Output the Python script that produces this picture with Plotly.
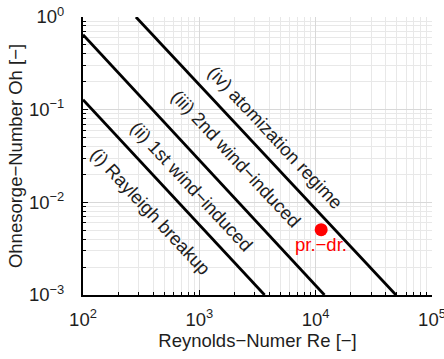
import plotly.graph_objects as go
import math

# Regime boundary lines (Re, Oh endpoints)
line_i_re = [100, 3640]
line_i_oh = [0.128, 0.001]
line_ii_re = [100, 11900]
line_ii_oh = [0.644, 0.001]
line_iii_re = [285, 49000]
line_iii_oh = [1.0, 0.001]

# Operating point
point_re = [11150]
point_oh = [0.00507]
point_label = "pr.−dr."

# Region labels with positions (Re, Oh)
region_labels = ["(i) Rayleigh breakup", "(ii) 1st wind−induced",
                 "(iii) 2nd wind−induced", "(iv) atomization regime"]
region_re = [383, 861, 2051, 4519]
region_oh = [0.00802, 0.01479, 0.02938, 0.05035]

x_tickvals = [1e2, 1e3, 1e4, 1e5]
x_ticktext = ["10<sup>2</sup>", "10<sup>3</sup>", "10<sup>4</sup>", "10<sup>5</sup>"]
y_tickvals = [1e-3, 1e-2, 1e-1, 1e0]
y_ticktext = ["10<sup>−3</sup>", "10<sup>−2</sup>", "10<sup>−1</sup>", "10<sup>0</sup>"]

FONT = "Liberation Sans, Arial, sans-serif"
FS = 18.5
TXT = "#1e1e1e"

fig = go.Figure()
for xs, ys in [(line_i_re, line_i_oh), (line_ii_re, line_ii_oh), (line_iii_re, line_iii_oh)]:
    fig.add_trace(go.Scatter(x=xs, y=ys, mode="lines",
                             line=dict(color="black", width=2.8),
                             showlegend=False, hoverinfo="skip"))

fig.add_trace(go.Scatter(x=point_re, y=point_oh, mode="markers",
                         marker=dict(color="#ff0000", size=13),
                         showlegend=False))

for txt, rx, ry in zip(region_labels, region_re, region_oh):
    fig.add_annotation(x=math.log10(rx), y=math.log10(ry), text=txt,
                       showarrow=False, textangle=47,
                       font=dict(family=FONT, size=FS, color=TXT))

fig.add_annotation(x=math.log10(point_re[0]), y=math.log10(0.0035), text=point_label,
                   showarrow=False, font=dict(family=FONT, size=FS, color="#ff0000"))

minor_x = [m * 10 ** k for k in range(2, 5) for m in range(2, 10)]
minor_y = [m * 10 ** k for k in range(-3, 0) for m in range(2, 10)]

fig.update_xaxes(type="log", range=[2, 5], tickvals=x_tickvals, ticktext=x_ticktext,
                 showline=True, linecolor="black", linewidth=2, mirror=False,
                 ticks="inside", ticklen=5, tickcolor="black", tickwidth=1,
                 showgrid=True, gridcolor="#d8d8d8", gridwidth=1,
                 zeroline=False, ticklabelstandoff=7, ticklabeloverflow="allow",
                 automargin="height",
                 minor=dict(tickvals=minor_x, ticks="inside", ticklen=3,
                            tickcolor="black", showgrid=True, gridcolor="#e8e8e8"),
                 tickfont=dict(family=FONT, size=FS, color=TXT),
                 title=dict(text="Reynolds−Numer Re [−]", standoff=4,
                            font=dict(family=FONT, size=FS, color=TXT)))
fig.update_yaxes(type="log", range=[-3, 0], tickvals=y_tickvals, ticktext=y_ticktext,
                 showline=True, linecolor="black", linewidth=2, mirror=False,
                 ticks="inside", ticklen=5, tickcolor="black", tickwidth=1,
                 showgrid=True, gridcolor="#d8d8d8", gridwidth=1,
                 zeroline=False, ticklabelstandoff=13, ticklabeloverflow="allow",
                 automargin="width",
                 minor=dict(tickvals=minor_y, ticks="inside", ticklen=3,
                            tickcolor="black", showgrid=True, gridcolor="#e8e8e8"),
                 tickfont=dict(family=FONT, size=FS, color=TXT),
                 title=dict(text="Ohnesorge−Number Oh [−]", standoff=1,
                            font=dict(family=FONT, size=FS, color=TXT)))

fig.update_layout(width=444, height=359, margin=dict(l=83, r=12, t=17, b=60),
                  plot_bgcolor="white", paper_bgcolor="white")

fig.write_html("out.html")
